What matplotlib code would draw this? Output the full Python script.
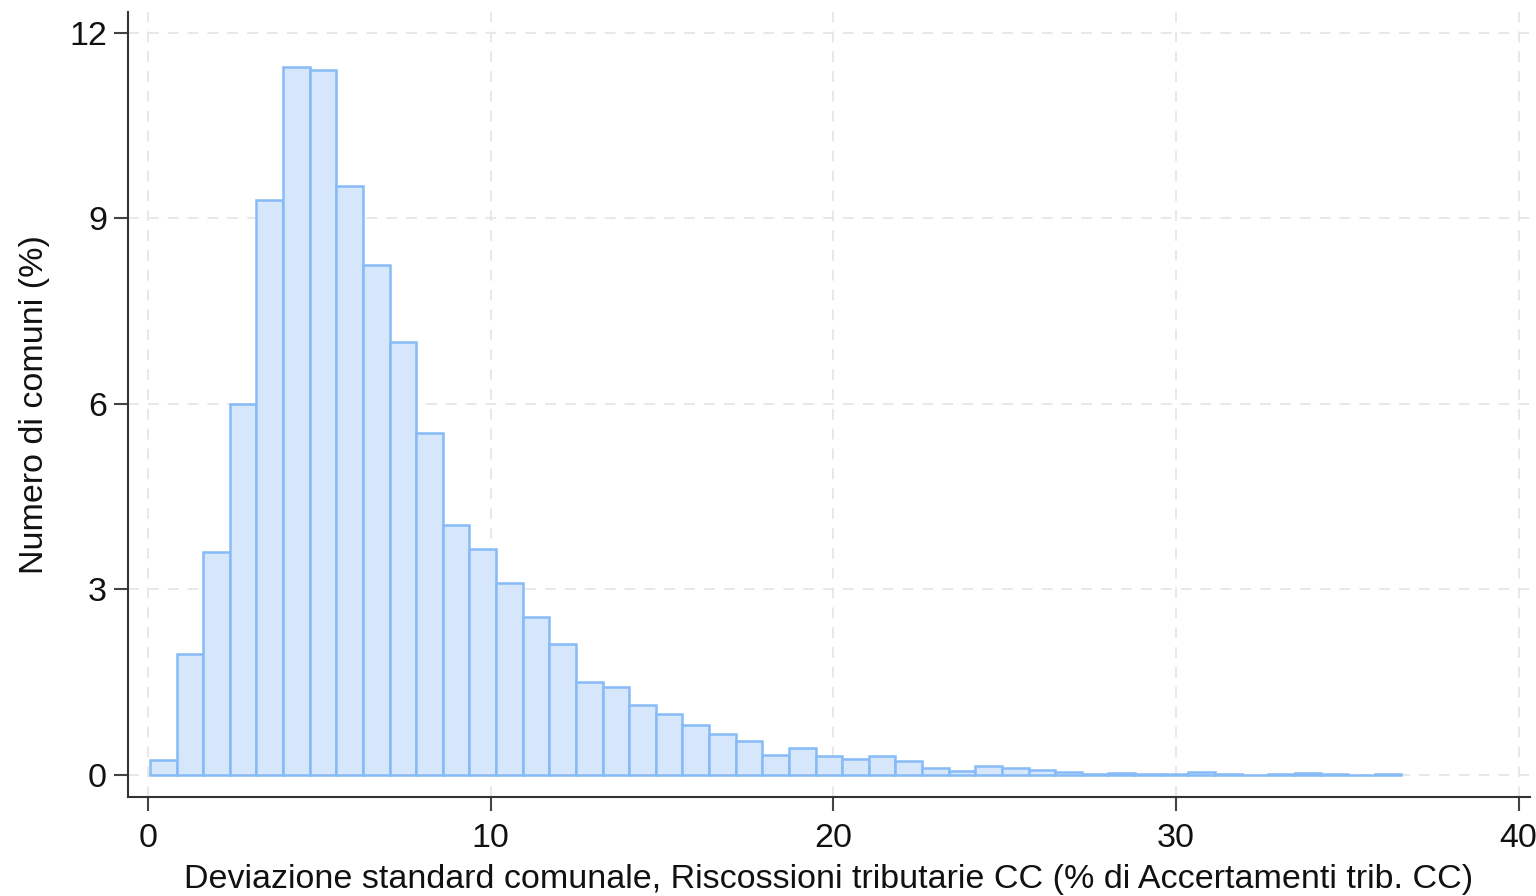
import matplotlib.pyplot as plt
import numpy as np

# histogram: 47 bins of equal width
bin_start = 0.06
bin_width = 0.777
heights = [0.24, 1.95, 3.60, 6.00, 9.29, 11.44, 11.39, 9.52, 8.24, 7.00,
           5.52, 4.04, 3.66, 3.11, 2.56, 2.12, 1.51, 1.42, 1.13, 0.99,
           0.81, 0.67, 0.55, 0.33, 0.44, 0.30, 0.26, 0.30, 0.23, 0.11,
           0.07, 0.15, 0.11, 0.08, 0.05, 0.02, 0.03, 0.01, 0.01, 0.05,
           0.02, 0.0, 0.02, 0.04, 0.02, 0.0, 0.02]
xticks = [0, 10, 20, 30, 40]
yticks = [0, 3, 6, 9, 12]

plt.rcParams['font.family'] = ['Liberation Sans', 'DejaVu Sans']

lefts = bin_start + bin_width * np.arange(len(heights))

fig = plt.figure(figsize=(15.36, 8.96), dpi=100)
ax = fig.add_axes([0.0833, 0.1105, 0.9127, 0.876])

ax.bar(lefts, heights, width=bin_width, align='edge',
       color='#d6e7fc', edgecolor='#86bbf7', linewidth=1.8, zorder=3)

ax.set_xlim(-0.58, 40.33)
ax.set_ylim(-0.355, 12.33)
ax.set_xticks(xticks)
ax.set_yticks(yticks)

ax.grid(True, color='#e6e6e6', linestyle=(0, (6, 5)), linewidth=1.3, zorder=0)
for s in ['top', 'right']:
    ax.spines[s].set_visible(False)
for s in ['left', 'bottom']:
    ax.spines[s].set_color('#333333')
    ax.spines[s].set_linewidth(1.5)
ax.tick_params(axis='both', length=10, width=1.5, color='#444444',
               labelsize=24.5, labelcolor='#111111')
ax.tick_params(axis='x', pad=9)
ax.tick_params(axis='y', pad=5)

ax.set_xlabel('Deviazione standard comunale, Riscossioni tributarie CC (% di Accertamenti trib. CC)',
              fontsize=24.5, color='#111111', labelpad=7)
ax.set_ylabel('Numero di comuni (%)', fontsize=24.5, color='#111111', labelpad=14)

fig.savefig('out.png', dpi=100)
